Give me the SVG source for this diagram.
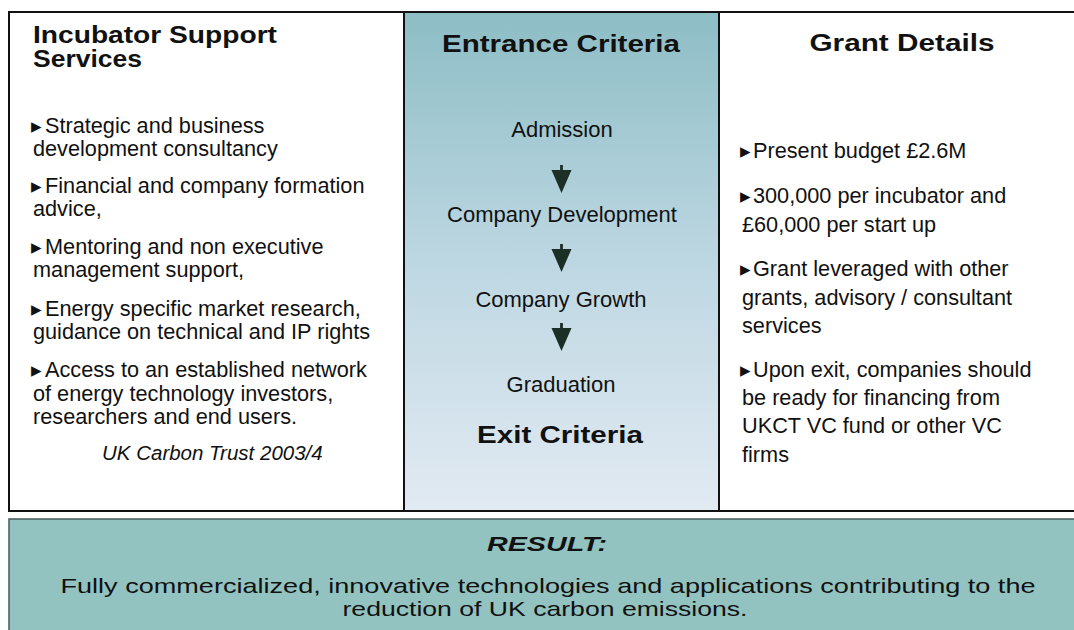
<svg xmlns="http://www.w3.org/2000/svg" width="1074" height="630" viewBox="0 0 1074 630">
  <defs>
    <linearGradient id="midGrad" x1="0" y1="0" x2="0" y2="1">
      <stop offset="0" stop-color="#8dbdc5"/>
      <stop offset="0.5" stop-color="#bdd7e2"/>
      <stop offset="1" stop-color="#e2eaf2"/>
    </linearGradient>
    <path id="arrowShape" d="M-1.4,0 H1.4 V5 H10 L0,28 L-10,5 H-1.4 Z"/>
    <style>
      text { font-family: "Liberation Sans", Arial, sans-serif; fill: #111; }
      .title { font-size: 23.5px; font-weight: bold; }
      .body { font-size: 21.7px; }
      .step { font-size: 22px; text-anchor: middle; }
      .bul { font-family: "DejaVu Sans", sans-serif; font-size: 21px; }
      .cite { font-size: 20.5px; font-style: italic; }
      .res { font-size: 21px; text-anchor: middle; }
      .panel { stroke: #111; stroke-width: 2; }
      .arrow { fill: #1b2f26; }
    </style>
  </defs>

  <rect width="1074" height="630" fill="#ffffff"/>

  <g id="incubator-support">
    <rect class="panel" x="9" y="12" width="395" height="499" fill="#ffffff"/>
    <text class="title" x="33" y="43" textLength="244" lengthAdjust="spacingAndGlyphs">Incubator Support</text>
    <text class="title" x="33" y="67" textLength="109" lengthAdjust="spacingAndGlyphs">Services</text>
    <text class="body" x="31" y="133"><tspan class="bul">▸</tspan><tspan x="45">Strategic and business</tspan></text>
    <text class="body" x="33" y="156">development consultancy</text>
    <text class="body" x="31" y="193"><tspan class="bul">▸</tspan><tspan x="45">Financial and company formation</tspan></text>
    <text class="body" x="33" y="216">advice,</text>
    <text class="body" x="31" y="254"><tspan class="bul">▸</tspan><tspan x="45">Mentoring and non executive</tspan></text>
    <text class="body" x="33" y="277">management support,</text>
    <text class="body" x="31" y="316"><tspan class="bul">▸</tspan><tspan x="45">Energy specific market research,</tspan></text>
    <text class="body" x="33" y="339">guidance on technical and IP rights</text>
    <text class="body" x="31" y="377"><tspan class="bul">▸</tspan><tspan x="45">Access to an established network</tspan></text>
    <text class="body" x="33" y="401">of energy technology investors,</text>
    <text class="body" x="33" y="424">researchers and end users.</text>
    <text class="cite" x="102" y="460">UK Carbon Trust 2003/4</text>
  </g>

  <g id="criteria">
    <rect class="panel" x="404" y="12" width="315" height="499" fill="url(#midGrad)"/>
    <text class="title" x="561" y="52" text-anchor="middle" textLength="238" lengthAdjust="spacingAndGlyphs">Entrance Criteria</text>
    <text class="title" x="560" y="443" text-anchor="middle" textLength="166" lengthAdjust="spacingAndGlyphs">Exit Criteria</text>
  </g>

  <g id="step-admission"><text class="step" x="562" y="137">Admission</text></g>
  <g id="step-development"><text class="step" x="562" y="222">Company Development</text></g>
  <g id="step-growth"><text class="step" x="561" y="307">Company Growth</text></g>
  <g id="step-graduation"><text class="step" x="561" y="392">Graduation</text></g>

  <g id="connectors" class="arrow">
    <use href="#arrowShape" x="561.5" y="165"/>
    <use href="#arrowShape" x="561.5" y="244"/>
    <use href="#arrowShape" x="561.5" y="323"/>
  </g>

  <g id="grant-details">
    <rect class="panel" x="719" y="12" width="365" height="499" fill="#ffffff"/>
    <text class="title" x="902" y="51" text-anchor="middle" textLength="185" lengthAdjust="spacingAndGlyphs">Grant Details</text>
    <text class="body" x="740" y="158"><tspan class="bul">▸</tspan><tspan x="753">Present budget £2.6M</tspan></text>
    <text class="body" x="740" y="203"><tspan class="bul">▸</tspan><tspan x="753">300,000 per incubator and</tspan></text>
    <text class="body" x="742" y="232">£60,000 per start up</text>
    <text class="body" x="740" y="276"><tspan class="bul">▸</tspan><tspan x="753">Grant leveraged with other</tspan></text>
    <text class="body" x="742" y="305">grants, advisory / consultant</text>
    <text class="body" x="742" y="333">services</text>
    <text class="body" x="740" y="377"><tspan class="bul">▸</tspan><tspan x="753">Upon exit, companies should</tspan></text>
    <text class="body" x="742" y="405">be ready for financing from</text>
    <text class="body" x="742" y="433">UKCT VC fund or other VC</text>
    <text class="body" x="742" y="462">firms</text>
  </g>

  <g id="result">
    <rect x="9" y="519" width="1075" height="120" fill="#92c3c0" stroke="#4a5a58" stroke-width="1.5"/>
    <text class="res" x="547" y="551" font-weight="bold" font-style="italic" textLength="120" lengthAdjust="spacingAndGlyphs">RESULT:</text>
    <text class="res" x="548" y="593" textLength="975" lengthAdjust="spacingAndGlyphs">Fully commercialized, innovative technologies and applications contributing to the</text>
    <text class="res" x="545" y="616" textLength="405" lengthAdjust="spacingAndGlyphs">reduction of UK carbon emissions.</text>
  </g>
</svg>
